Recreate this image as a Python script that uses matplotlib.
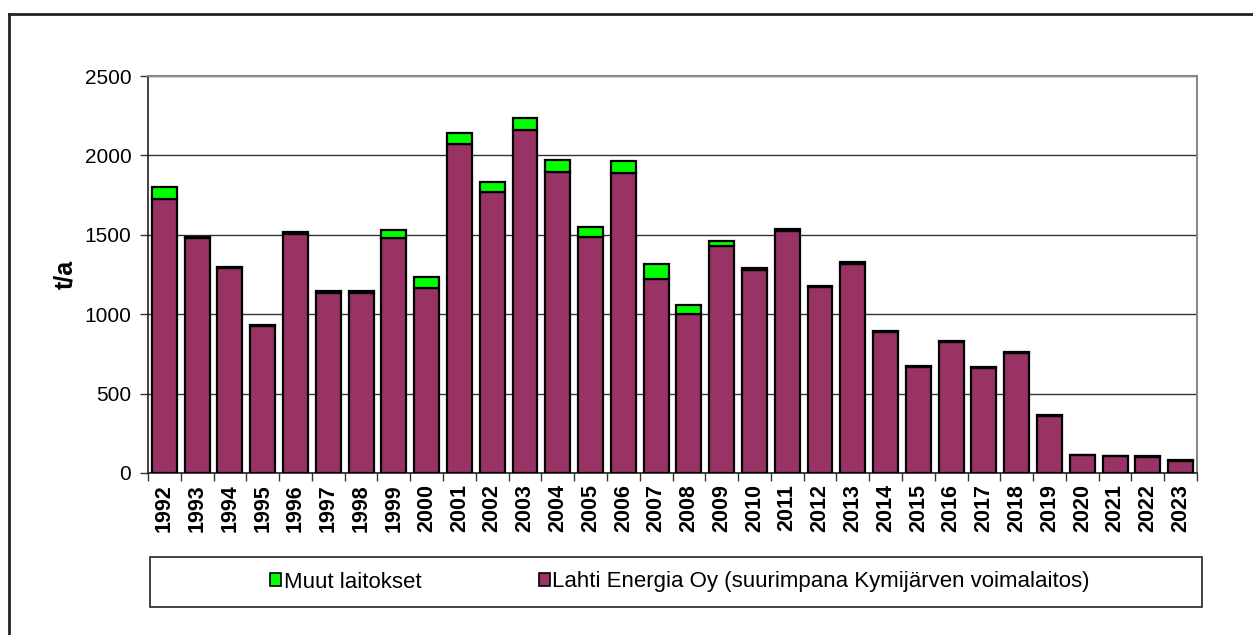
import matplotlib
matplotlib.use("Agg")
import matplotlib.pyplot as plt
from matplotlib.patches import Rectangle, Patch
from matplotlib.lines import Line2D

plt.rcParams['font.family'] = ['Liberation Sans', 'DejaVu Sans']

# ================= DATA =================
years = [str(y) for y in range(1992, 2024)]
lahti = [1725, 1478, 1290, 925, 1502, 1132, 1132, 1480, 1162, 2071,
         1767, 2159, 1893, 1487, 1887, 1221, 1000, 1428, 1280, 1526,
         1172, 1316, 885, 666, 826, 662, 758, 362, 113, 104, 100, 76]
muut = [75, 10, 5, 6, 13, 13, 13, 50, 70, 71,
        63, 78, 77, 63, 77, 94, 61, 33, 8, 8,
        4, 10, 8, 6, 4, 4, 4, 2, 3, 3, 7, 8]
y_ticks = [0, 500, 1000, 1500, 2000, 2500]

lahti_color = "#993366"
muut_color = "#00ff00"

# ================= FIGURE =================
fig = plt.figure(figsize=(12.53, 6.35), dpi=100)
ax = fig.add_axes([148 / 1253, 1 - 473 / 635, (1197 - 148) / 1253, (473 - 76) / 635])

x = list(range(len(years)))
ax.bar(x, lahti, width=0.76, color=lahti_color, edgecolor="black", linewidth=1.6, zorder=3)
ax.bar(x, muut, width=0.76, bottom=lahti, color=muut_color, edgecolor="black", linewidth=1.6, zorder=3)

ax.set_xlim(-0.5, len(years) - 0.5)
ax.set_ylim(0, 2500)
ax.set_yticks(y_ticks)
ax.yaxis.grid(True, color="#333333", linewidth=1.0, zorder=0)
ax.set_axisbelow(True)

ax.set_xticks(x)
ax.set_xticklabels(years, rotation=90, fontsize=15.5, fontweight="bold")
ax.tick_params(axis="x", which="major", length=0, pad=8)
ax.set_xticks([i - 0.5 for i in range(len(years) + 1)], minor=True)
ax.tick_params(axis="x", which="minor", length=6, width=1, color="#333333")
ax.tick_params(axis="y", labelsize=15, length=6, width=1, color="#333333", pad=6)

ax.set_ylabel("t/a", fontsize=18, fontweight="bold", labelpad=5)

for side in ["left", "bottom"]:
    ax.spines[side].set_color("#222222")
    ax.spines[side].set_linewidth(1.2)
for side in ["top", "right"]:
    ax.spines[side].set_color("#888888")
    ax.spines[side].set_linewidth(1.5)

# legend box
fig.patches.append(Rectangle((150 / 1253, 1 - 607 / 635), (1202 - 150) / 1253, (607 - 557) / 635,
                             transform=fig.transFigure, facecolor="white",
                             edgecolor="#222222", linewidth=1.2))
handles = [Patch(facecolor=muut_color, edgecolor="black", linewidth=1.2),
           Patch(facecolor=lahti_color, edgecolor="black", linewidth=1.2)]
labels = ["Muut laitokset", "Lahti Energia Oy (suurimpana Kymijärven voimalaitos)"]
fig.legend(handles, labels, loc="center", bbox_to_anchor=(680 / 1253, 1 - 582 / 635),
           ncol=2, frameon=False, fontsize=16, handlelength=0.5, handleheight=0.5,
           handletextpad=0.1, columnspacing=5.3)

# outer frame (cut at right and bottom)
fig.add_artist(Line2D([9 / 1253, 9 / 1253], [0, 1 - 14 / 635], transform=fig.transFigure,
                      color="#222222", linewidth=2))
fig.add_artist(Line2D([9 / 1253, 1], [1 - 14 / 635, 1 - 14 / 635], transform=fig.transFigure,
                      color="#222222", linewidth=2))

fig.savefig("out.png", dpi=100)
